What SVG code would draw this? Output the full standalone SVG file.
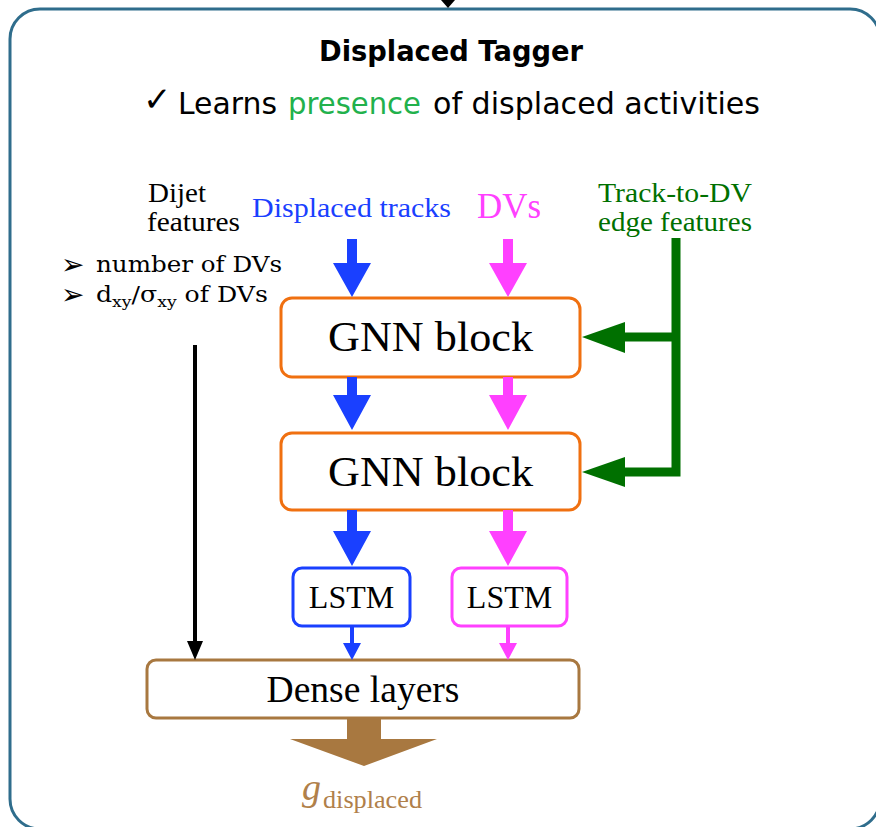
<svg xmlns="http://www.w3.org/2000/svg" width="876" height="827" viewBox="0 0 876 827">
<style>
.cm{font-family:"DejaVu Sans","Open Sans",sans-serif;}
.tm{font-family:"Liberation Serif","Times New Roman",serif;}
.cb{font-family:"DejaVu Serif","Liberation Serif",serif;font-size:22px;fill:#000;}
.ar{font-family:"DejaVu Sans",sans-serif;font-size:28px;}
.box{fill:#fff;stroke-width:3;}
</style>
<rect x="10" y="9" width="870" height="820" rx="30" ry="30" fill="#fff" stroke="#2f6d8c" stroke-width="3"/>
<polygon points="441,0 455,0 448,8" fill="#000"/>

<g id="title">
<text class="cm" x="319" y="61" font-size="28" font-weight="bold" textLength="264" lengthAdjust="spacingAndGlyphs">Displaced Tagger</text>
<text class="cm" x="143" y="111" font-size="34">✓</text>
<text class="cm" x="178" y="114" font-size="30" textLength="99" lengthAdjust="spacingAndGlyphs">Learns</text>
<text class="cm" x="288" y="114" font-size="30" fill="#22b14c" textLength="133" lengthAdjust="spacingAndGlyphs">presence</text>
<text class="cm" x="433" y="114" font-size="30" textLength="327" lengthAdjust="spacingAndGlyphs">of displaced activities</text>
</g>

<g id="dijet">
<text class="tm" x="148" y="202" font-size="28" textLength="58" lengthAdjust="spacingAndGlyphs">Dijet</text>
<text class="tm" x="147" y="231" font-size="28" textLength="93" lengthAdjust="spacingAndGlyphs">features</text>
<text class="ar" x="61" y="274">➢</text>
<text class="cb" x="96" y="272" textLength="186" lengthAdjust="spacingAndGlyphs">number of DVs</text>
<text class="ar" x="61" y="304">➢</text>
<text class="cb" x="96" y="302" textLength="172" lengthAdjust="spacingAndGlyphs">d<tspan font-size="15" dy="5">xy</tspan><tspan dy="-5">/σ</tspan><tspan font-size="15" dy="5">xy</tspan><tspan dy="-5"> of DVs</tspan></text>
</g>

<g id="tracks-label">
<text class="tm" x="252" y="217" font-size="28" fill="#1a40ff" textLength="199" lengthAdjust="spacingAndGlyphs">Displaced tracks</text>
</g>
<g id="dvs-label">
<text class="tm" x="477" y="218" font-size="35" fill="#ff40ff" textLength="64" lengthAdjust="spacingAndGlyphs">DVs</text>
</g>
<g id="edge-label">
<text class="tm" x="598" y="202" font-size="27" fill="#007000" textLength="154" lengthAdjust="spacingAndGlyphs">Track-to-DV</text>
<text class="tm" x="598" y="231" font-size="27" fill="#007000" textLength="154" lengthAdjust="spacingAndGlyphs">edge features</text>
</g>

<g id="gnn1">
<rect class="box" x="281" y="298" width="299" height="79" rx="11" stroke="#f07010"/>
<text class="tm" x="328" y="351" font-size="43" textLength="205" lengthAdjust="spacingAndGlyphs">GNN block</text>
</g>
<g id="gnn2">
<rect class="box" x="281" y="433" width="299" height="77" rx="11" stroke="#f07010"/>
<text class="tm" x="328" y="486" font-size="43" textLength="205" lengthAdjust="spacingAndGlyphs">GNN block</text>
</g>
<g id="lstm-tracks">
<rect class="box" x="293" y="568" width="117" height="58" rx="9" stroke="#1a40ff"/>
<text class="tm" x="351.5" y="608" font-size="32" text-anchor="middle">LSTM</text>
</g>
<g id="lstm-dvs">
<rect class="box" x="452" y="568" width="115" height="58" rx="9" stroke="#ff40ff"/>
<text class="tm" x="509.5" y="608" font-size="32" text-anchor="middle">LSTM</text>
</g>
<g id="dense">
<rect class="box" x="147" y="660" width="432" height="58" rx="9" stroke="#a87840"/>
<text class="tm" x="363" y="702" font-size="37" text-anchor="middle" textLength="193" lengthAdjust="spacingAndGlyphs">Dense layers</text>
</g>
<g id="output">
<text class="tm" x="302" y="800" font-size="38" font-style="italic" fill="#b0804a">g</text>
<text class="tm" x="323" y="808" font-size="25" fill="#b0804a" textLength="99" lengthAdjust="spacingAndGlyphs">displaced</text>
</g>

<g id="connectors">
<polygon fill="#1a40ff" points="347,239 357,239 357,263 371,263 352,297 333,263 347,263"/>
<polygon fill="#1a40ff" points="347,377 357,377 357,395 371,395 352,430 333,395 347,395"/>
<polygon fill="#1a40ff" points="347,510 357,510 357,531 371,531 352,566 333,531 347,531"/>
<polygon fill="#ff40ff" points="503,239 513,239 513,263 527,263 508,297 489,263 503,263"/>
<polygon fill="#ff40ff" points="503,377 513,377 513,395 527,395 508,430 489,395 503,395"/>
<polygon fill="#ff40ff" points="503,510 513,510 513,531 527,531 508,566 489,531 503,531"/>
<polygon fill="#1a40ff" points="350,626 354,626 354,643 361,643 352,660 343,643 350,643"/>
<polygon fill="#ff40ff" points="506,626 510,626 510,643 517,643 508,660 499,643 506,643"/>
<polygon fill="#000" points="193,345 197,345 197,641 203,641 195,660 187,641 193,641"/>
<path d="M676,238 V472 H624 M676,337 H624" fill="none" stroke="#007000" stroke-width="9"/>
<polygon fill="#007000" points="625,322 625,353 582,337"/>
<polygon fill="#007000" points="625,457 625,487 582,472"/>
<polygon fill="#a87840" points="347,718 381,718 381,739 437,739 364,766 290,739 347,739"/>
</g>
</svg>
